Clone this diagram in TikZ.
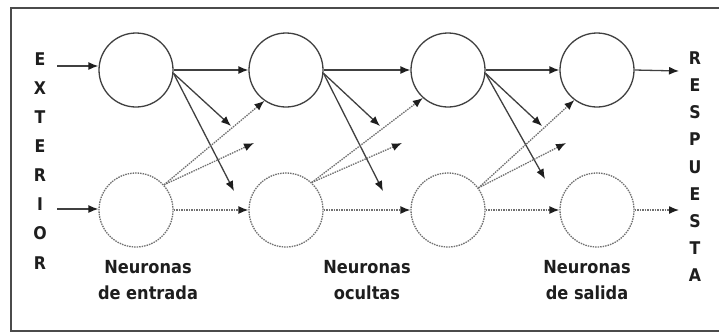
\documentclass[tikz,border=0pt]{standalone}
\usepackage{fontspec}
\setmainfont{DejaVu Sans Condensed}
\usetikzlibrary{arrows.meta}
\definecolor{ink}{HTML}{1E1E1E}
\definecolor{dotink}{HTML}{707070}
\tikzset{
  neuron/.style={circle,draw=ink!85,line width=1.3pt,minimum size=74pt,inner sep=0pt},
  dneuron/.style={circle,draw=dotink,line width=1.3pt,dash pattern=on 1.5pt off 1pt,minimum size=74pt,inner sep=0pt},
  link/.style={draw=ink!85,line width=1.3pt,-{Latex[length=10pt,width=8pt,color=ink]}},
  dlink/.style={draw=dotink,line width=1.3pt,dash pattern=on 1.5pt off 1pt,-{Latex[length=10pt,width=8pt,fill=ink,color=ink]}},
  lbl/.style={font=\bfseries\fontsize{18}{26}\selectfont,text=ink,align=center,inner sep=0pt},
  vlet/.style={font=\bfseries\fontsize{17.5}{17.5}\selectfont,text=ink,inner sep=0pt}
}
\begin{document}
\begin{tikzpicture}[x=1pt,y=-1pt]
\useasboundingbox (0,0) rectangle (719,333);
\draw[draw=ink!80,line width=2.2pt] (730,8) -- (11,8) -- (11,331) -- (730,331);
% neurons
\node[neuron] (t1) at (136,70) {};
\node[neuron] (t2) at (286,70) {};
\node[neuron] (t3) at (448,70) {};
\node[neuron] (t4) at (597,70) {};
\node[dneuron] (b1) at (136,210) {};
\node[dneuron] (b2) at (286,210) {};
\node[dneuron] (b3) at (448,210) {};
\node[dneuron] (b4) at (597,210) {};
% free ends
\coordinate (in1) at (57,66);
\coordinate (in2) at (57,209);
\coordinate (out1) at (679,71);
\coordinate (out2) at (679,210);
\coordinate (s1a) at (231,126);
\coordinate (s1b) at (234,191);
\coordinate (s2a) at (380,126);
\coordinate (s2b) at (383,191);
\coordinate (s3a) at (542,126);
\coordinate (s3b) at (545,179);
\coordinate (d1) at (254,143);
\coordinate (d2) at (402,143);
\coordinate (d3) at (566,143);
% inputs
\draw[link] (in1) -- (t1.west |- in1);
\draw[link] (in2) -- (b1.west |- in2);
% top row
\draw[link] (t1.east) -- (t2.west);
\draw[link] (t2.east) -- (t3.west);
\draw[link] (t3.east) -- (t4.west);
\draw[link] (t4.east) -- (out1);
% bottom row
\draw[dlink] (b1.east) -- (b2.west);
\draw[dlink] (b2.east) -- (b3.west);
\draw[dlink] (b3.east) -- (b4.west);
\draw[dlink] (b4.east) -- (out2);
% diagonal solid
\draw[link] (t1.-5) -- (s1a);
\draw[link] (t1.-5) -- (s1b);
\draw[link] (t2.-5) -- (s2a);
\draw[link] (t2.-5) -- (s2b);
\draw[link] (t3.-5) -- (s3a);
\draw[link] (t3.-5) -- (s3b);
% diagonal dotted
\draw[dlink] (b1.42) -- (t2.235);
\draw[dlink] (b1.42) -- (d1);
\draw[dlink] (b2.47) -- (t3.228);
\draw[dlink] (b2.47) -- (d2);
\draw[dlink] (b3.36) -- (t4.233);
\draw[dlink] (b3.36) -- (d3);
% labels
\node[lbl] (l1) at (148,280) {Neuronas\\de entrada};
\node[lbl] (l2) at (367,280) {Neuronas\\ocultas};
\node[lbl] (l3) at (587,280) {Neuronas\\de salida};
% vertical words
\foreach \c [count=\i from 0] in {E,X,T,E,R,I,O,R}
  \node[vlet] (ext\i) at (40,59+29.1*\i) {\c};
\foreach \c [count=\i from 0] in {R,E,S,P,U,E,S,T,A}
  \node[vlet] (resp\i) at (695,58+27.2*\i) {\c};
\end{tikzpicture}
\end{document}
